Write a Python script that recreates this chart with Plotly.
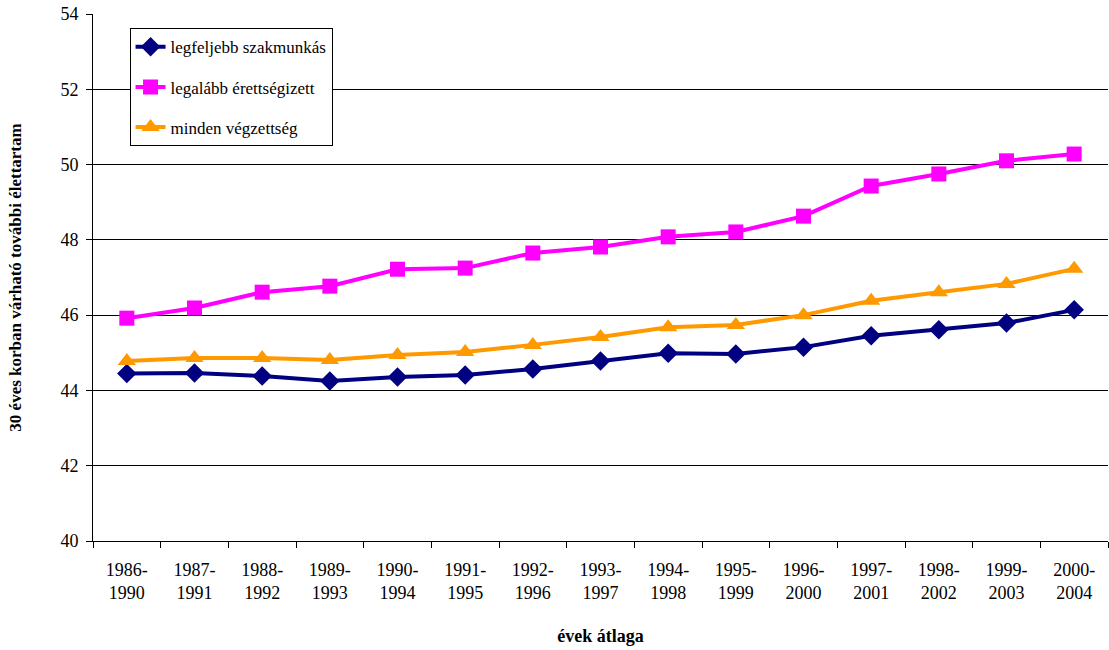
import plotly.graph_objects as go

# ket soros kategoria cimkek
periods = ["1986-<br>1990", "1987-<br>1991", "1988-<br>1992", "1989-<br>1993", "1990-<br>1994",
           "1991-<br>1995", "1992-<br>1996", "1993-<br>1997", "1994-<br>1998", "1995-<br>1999",
           "1996-<br>2000", "1997-<br>2001", "1998-<br>2002", "1999-<br>2003", "2000-<br>2004"]

szakmunkas = [44.45, 44.46, 44.38, 44.25, 44.36, 44.41, 44.57, 44.78, 44.99, 44.97,
              45.15, 45.45, 45.61, 45.79, 46.14]
erettsegi = [45.92, 46.19, 46.61, 46.77, 47.22, 47.25, 47.65, 47.81, 48.08, 48.21,
             48.63, 49.43, 49.75, 50.1, 50.28]
minden = [44.78, 44.86, 44.86, 44.81, 44.94, 45.02, 45.21, 45.42, 45.68, 45.74,
          46.0, 46.38, 46.61, 46.83, 47.23]

font_name = "Liberation Serif, Times New Roman, serif"

fig = go.Figure()
fig.add_trace(go.Scatter(x=periods, y=szakmunkas, name="legfeljebb szakmunkás",
                         mode="lines+markers", legendgroup="a",
                         line=dict(color="#000080", width=4),
                         marker=dict(symbol="diamond", size=15, color="#000080")))
fig.add_trace(go.Scatter(x=periods, y=erettsegi, name="legalább érettségizett",
                         mode="lines+markers", legendgroup="b",
                         line=dict(color="#FF00FF", width=4),
                         marker=dict(symbol="square", size=15, color="#FF00FF")))
fig.add_trace(go.Scatter(x=periods, y=minden, name="minden végzettség",
                         mode="lines+markers", legendgroup="c",
                         line=dict(color="#FF9900", width=4),
                         marker=dict(symbol="triangle-up", size=16, color="#FF9900")))

fig.update_layout(
    width=1109, height=650,
    margin=dict(l=93, r=1, t=14, b=109, autoexpand=False),
    paper_bgcolor="white", plot_bgcolor="white",
    font=dict(family=font_name, size=17, color="black"),
    showlegend=True,
    legend=dict(x=0.036, y=0.973, xanchor="left", yanchor="top",
                bordercolor="black", borderwidth=1, bgcolor="white",
                traceorder="grouped", tracegroupgap=15,
                font=dict(family=font_name, size=17)),
)
fig.update_xaxes(type="category", range=[-0.5, 14.5],
                 showline=True, linecolor="black", linewidth=1,
                 ticks="outside", tickson="boundaries", ticklen=6, tickcolor="black",
                 showgrid=False, automargin=False, ticklabelstandoff=12,
                 tickfont=dict(family=font_name, size=18),
                 title=dict(text="<b>évek átlaga</b>", standoff=27,
                            font=dict(family=font_name, size=18)))
fig.update_yaxes(range=[40, 54], dtick=2, showline=True, linecolor="black", linewidth=1,
                 ticks="outside", ticklen=6, tickcolor="black",
                 showgrid=True, gridcolor="black", gridwidth=1, zeroline=False,
                 automargin=False, ticklabelstandoff=4,
                 tickfont=dict(family=font_name, size=18),
                 title=dict(text="<b>30 éves korban várható további élettartam</b>", standoff=34,
                            font=dict(family=font_name, size=17)))

fig.write_html("out.html", config={"displayModeBar": False},
               post_script="document.body.style.margin='0';")
